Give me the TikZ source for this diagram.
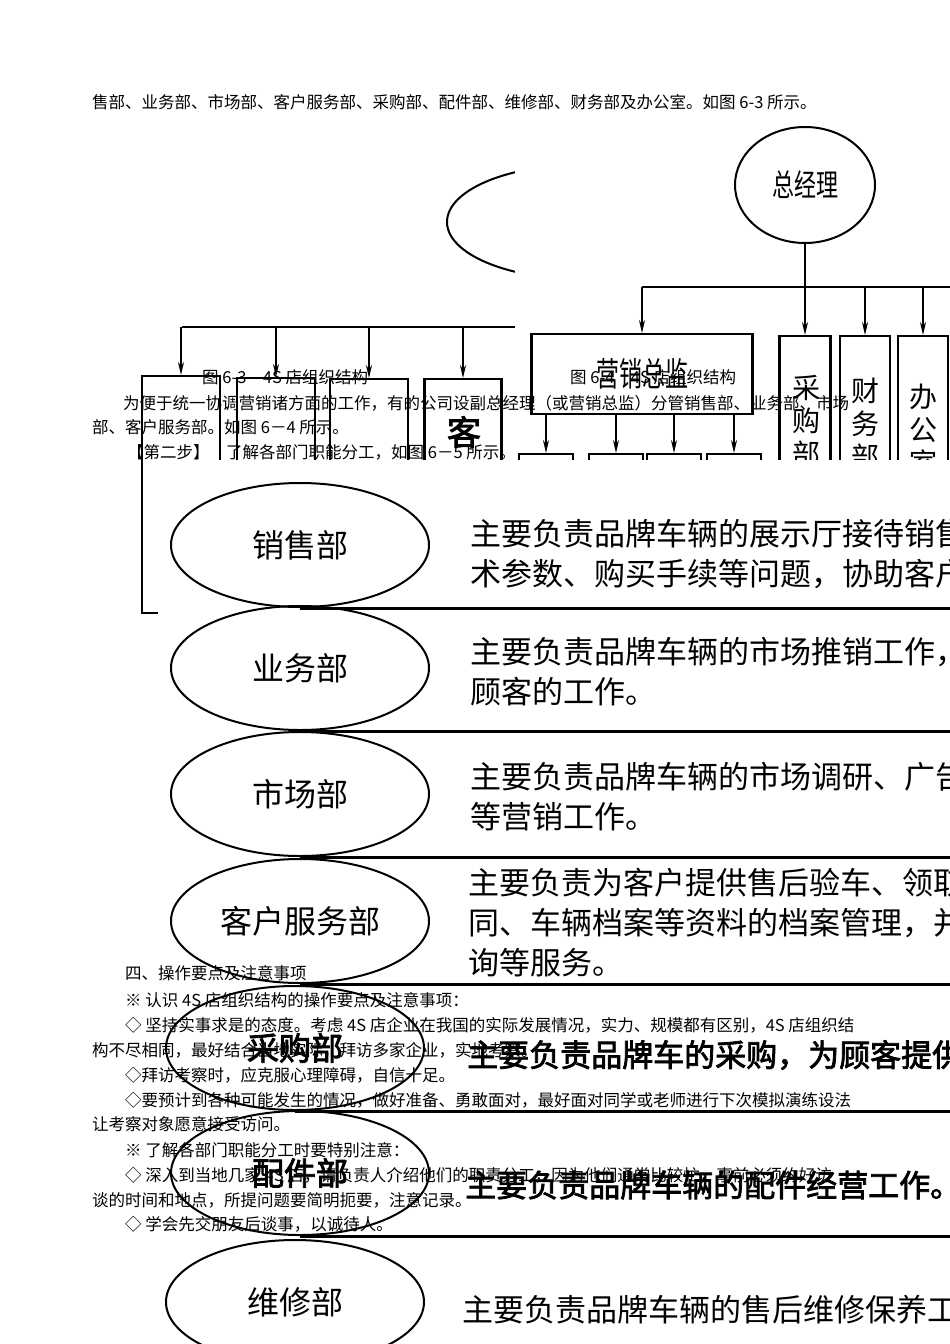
\documentclass[tikz,border=0pt]{standalone}
\usepackage{fontspec}
\usepackage{graphicx}
\setmainfont{Noto Sans CJK SC}
\newfontfamily\cjkbold{Noto Sans CJK SC}[FakeBold=2.5]
\usetikzlibrary{arrows.meta,positioning,shapes.geometric}

\begin{document}
\begin{tikzpicture}[
    x=1pt, y=-1pt,
    >={Stealth[length=13pt,width=6pt]},
    every node/.style={font=\fontsize{16.5}{20}\selectfont},
    txt/.style={anchor=west, inner sep=0pt},
    dept/.style={draw, line width=2.2pt, anchor=north, inner sep=0pt},
    oval/.style={draw, ellipse, line width=2pt, inner sep=0pt},
    link/.style={->, line width=1.8pt},
    bar/.style={line width=2.2pt},
    rowline/.style={line width=3pt},
    lbl/.style={font=\fontsize{32}{32}\selectfont},
    vtxt/.style={anchor=north, inner sep=0pt, align=center, font=\fontsize{28}{33}\selectfont},
    duty/.style={anchor=west, inner sep=0pt, align=left, font=\fontsize{31}{40}\selectfont},
]
  \useasboundingbox (0,0) rectangle (950,1344);
  \clip (0,0) rectangle (950,1344);
  \fill[white] (0,0) rectangle (950,1344);

  % figure 6-3 (left, mostly hidden)
  \node[oval, minimum width=266pt, minimum height=114pt] (gm3) at (580,222) {};
  \coordinate (bar3) at (182,327);
  \coordinate (bar3e) at (515,327);
  \draw[bar] (bar3) -- (bar3e);
  \node[dept, minimum width=78pt, minimum height=237pt] (xs3) at (181,375) {};
  \node[dept, minimum width=78pt, minimum height=200pt] (yw3) at (276,377) {};
  \node[dept, minimum width=78pt, minimum height=200pt] (sc3) at (369,378) {};
  \node[dept, minimum width=77pt, minimum height=200pt] (kh3) at (463,378) {};
  \foreach \b in {xs3,yw3,sc3,kh3}
    \draw[link] (\b.north |- bar3) -- (\b.north);
  \node[font=\fontsize{34}{34}\selectfont\cjkbold] (kh3t) at (464,432) {客};

  % figure 6-4 (right)
  \fill[white] (515,115) rectangle (950,460);
  \node[oval, minimum width=140pt, minimum height=116pt] (gm4) at (805,185)
    {\scalebox{1}[1.4]{\fontsize{22}{22}\selectfont 总经理}};
  \coordinate (bar4) at (642,287);
  \coordinate (bar4e) at (960,287);
  \draw[bar] (bar4) -- (bar4e);
  \node[dept, minimum width=221pt, minimum height=80pt] (yx4) at (642,333)
    {\scalebox{1}[1.45]{\fontsize{23}{23}\selectfont 营销总监}};
  \node[dept, minimum width=51pt, minimum height=200pt] (cg4) at (805,335) {};
  \node[dept, minimum width=50pt, minimum height=200pt] (cw4) at (865,335) {};
  \node[dept, minimum width=50pt, minimum height=200pt] (bg4) at (923,335) {};
  \draw[link] (gm4) -- (cg4.north);
  \foreach \b in {yx4,cw4,bg4}
    \draw[link] (\b.north |- bar4) -- (\b.north);
  \node[vtxt] (cg4t) at (806,375) {采\\购\\部};
  \node[vtxt] (cw4t) at (865,378) {财\\务\\部};
  \node[vtxt] (bg4t) at (923,384) {办\\公\\室};
  \foreach \n/\x in {sb1/546, sb2/616, sb3/674, sb4/734} {
    \node[dept, minimum width=54pt, minimum height=100pt] (\n) at (\x,453) {};
    \draw[link] (\n.north |- yx4.south) -- (\n.north);
  }

  % figure 6-5 (duties)
  \fill[white] (158,460) rectangle (950,1344);
  \foreach \n/\x/\y/\t in {xs/300/545/销售部, yw/300/668/业务部, sc/300/794/市场部,
      kf/300/921/客户服务部, cg/295/1048/{\cjkbold 采购部}, pj/300/1173/{\cjkbold 配件部},
      wx/295/1302/维修部}
    \node[oval, lbl, minimum width=258pt, minimum height=124pt] (\n) at (\x,\y) {\t};
  \coordinate (rim) at (960,0);
  \foreach \a in {xs,yw,sc,kf,cg,pj}
    \draw[rowline] (\a.south) -- (\a.south -| rim);

  \node[duty] (dxs) at (470,554) {主要负责品牌车辆的展示厅接待销售\\术参数、购买手续等问题，协助客户};
  \node[duty] (dyw) at (470,672) {主要负责品牌车辆的市场推销工作，\\顾客的工作。};
  \node[duty] (dsc) at (470,797) {主要负责品牌车辆的市场调研、广告\\等营销工作。};
  \node[duty] (dkf) at (468,923) {主要负责为客户提供售后验车、领取\\同、车辆档案等资料的档案管理，并\\询等服务。};
  \node[duty, font=\fontsize{31}{40}\selectfont\cjkbold] (dcg) at (467,1055) {主要负责品牌车的采购，为顾客提供};
  \node[duty, font=\fontsize{31}{40}\selectfont\cjkbold] (dpj) at (465,1185) {主要负责品牌车辆的配件经营工作。};
  \node[duty] (dwx) at (462,1310) {主要负责品牌车辆的售后维修保养工作};

  % running text on top
  \node[txt] (t0) at (92,102) {售部、业务部、市场部、客户服务部、采购部、配件部、维修部、财务部及办公室。如图 6-3 所示。};
  \node[txt] (cap3) at (202,377) {图 6-3\quad 4S 店组织结构};
  \node[txt] (cap4) at (570,377) {图 6-4\quad 4S 店组织结构};
  \node[txt] (p1) at (123,403) {为便于统一协调营销诸方面的工作，有的公司设副总经理（或营销总监）分管销售部、业务部、市场};
  \node[txt] (p2) at (92,427) {部、客户服务部。如图 6－4 所示。};
  \node[txt] (p3) at (127,452) {【第二步】\quad 了解各部门职能分工，如图 6－5 所示。};

  \node[txt] (q1) at (125,973) {四、操作要点及注意事项};
  \node[txt] (q2) at (125,1000) {※ 认识 4S 店组织结构的操作要点及注意事项：};
  \node[txt] (q3) at (125,1025) {◇ 坚持实事求是的态度。考虑 4S 店企业在我国的实际发展情况，实力、规模都有区别，4S 店组织结};
  \node[txt] (q4) at (92,1050) {构不尽相同，最好结合当地实际，拜访多家企业，实地考察。};
  \node[txt] (q5) at (125,1075) {◇拜访考察时，应克服心理障碍，自信十足。};
  \node[txt] (q6) at (125,1100) {◇要预计到各种可能发生的情况，做好准备、勇敢面对，最好面对同学或老师进行下次模拟演练设法};
  \node[txt] (q7) at (92,1124) {让考察对象愿意接受访问。};
  \node[txt] (q8) at (125,1150) {※ 了解各部门职能分工时要特别注意：};
  \node[txt] (q9) at (125,1175) {◇ 深入到当地几家 4S 店，请负责人介绍他们的职责分工，因为他们通常比较忙，事前必须约好访};
  \node[txt] (q10) at (92,1200) {谈的时间和地点，所提问题要简明扼要，注意记录。};
  \node[txt] (q11) at (125,1224) {◇ 学会先交朋友后谈事，以诚待人。};
\end{tikzpicture}
\end{document}
